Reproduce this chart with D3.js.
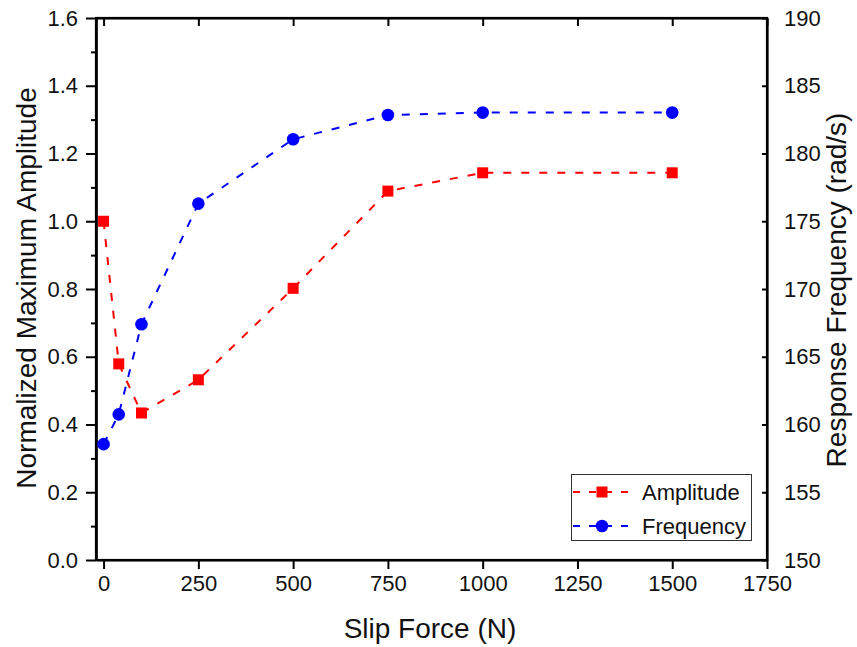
<!DOCTYPE html>
<html>
<head>
<meta charset="utf-8">
<script src="https://cdn.jsdelivr.net/npm/d3@7"></script>
<style>
  body { margin: 0; background: #fff; }
  svg { display: block; font-family: Arial, "Liberation Sans", sans-serif; }
</style>
</head>
<body>
<svg id="chart" width="857" height="647"></svg>
<script>
// Slip force (N) at each test point
const slipForce = [0, 40, 100, 250, 500, 750, 1000, 1500];
// Normalized maximum amplitude (left axis)
const amplitude = [1.0, 0.579, 0.434, 0.532, 0.802, 1.089, 1.143, 1.143];
// Response frequency in rad/s (right axis)
const frequency = [158.55, 160.75, 167.4, 176.3, 181.05, 182.84, 183.02, 183.02];

const xTicks = [0, 250, 500, 750, 1000, 1250, 1500, 1750];
const yLeftTicks = [0.0, 0.2, 0.4, 0.6, 0.8, 1.0, 1.2, 1.4, 1.6];
const yRightTicks = [150, 155, 160, 165, 170, 175, 180, 185, 190];

const svg = d3.select("#chart");
const plotLeft = 96, plotRight = 767, plotTop = 18, plotBottom = 560;

const x = d3.scaleLinear().domain([-20, 1750]).range([plotLeft, plotRight]);
const yL = d3.scaleLinear().domain([0, 1.6]).range([plotBottom, plotTop]);
const yR = d3.scaleLinear().domain([150, 190]).range([plotBottom, plotTop]);

const tickFont = 22;
const titleFont = 28;

// Bottom axis
const gx = svg.append("g").attr("transform", `translate(0,${plotBottom})`)
  .call(d3.axisBottom(x).tickValues(xTicks).tickFormat(d3.format("d")).tickSize(9).tickPadding(6).tickSizeOuter(0));
// Top axis (inward ticks, no labels)
const gt = svg.append("g").attr("transform", `translate(0,${plotTop})`)
  .call(d3.axisTop(x).tickValues(xTicks).tickFormat("").tickSize(-8).tickSizeOuter(0));
// Left axis with minor ticks
const gl = svg.append("g").attr("transform", `translate(${plotLeft},0)`)
  .call(d3.axisLeft(yL).tickValues(d3.range(0.1, 1.6, 0.2)).tickFormat("").tickSize(5).tickSizeOuter(0));
const gl2 = svg.append("g").attr("transform", `translate(${plotLeft},0)`)
  .call(d3.axisLeft(yL).tickValues(yLeftTicks).tickFormat(d3.format(".1f")).tickSize(10).tickPadding(8).tickSizeOuter(0));
// Right axis (inward ticks)
const gr = svg.append("g").attr("transform", `translate(${plotRight},0)`)
  .call(d3.axisRight(yR).tickValues(yRightTicks).tickFormat(d3.format("d")).tickSize(-5).tickPadding(17).tickSizeOuter(0));

[gx, gt, gl, gl2, gr].forEach(g => {
  g.selectAll(".domain").attr("stroke", "#000").attr("stroke-width", 2.2);
  g.selectAll(".tick line").attr("stroke", "#000").attr("stroke-width", 2);
  g.selectAll(".tick text").attr("fill", "#111").style("font-size", tickFont + "px")
    .style("font-family", "Arial, 'Liberation Sans', sans-serif");
});
// frame around the plot area
svg.append("rect").attr("x", plotLeft).attr("y", plotTop).attr("width", plotRight - plotLeft).attr("height", plotBottom - plotTop)
  .attr("fill", "none").attr("stroke", "#000").attr("stroke-width", 2.2);

// Axis titles
svg.append("text").attr("x", 430).attr("y", 638).attr("text-anchor", "middle")
  .style("font-size", titleFont + "px").attr("fill", "#111").text("Slip Force (N)");
svg.append("text").attr("transform", `translate(36,288) rotate(-90)`).attr("text-anchor", "middle")
  .style("font-size", titleFont + "px").attr("fill", "#111").text("Normalized Maximum Amplitude");
svg.append("text").attr("transform", `translate(846,290) rotate(-90)`).attr("text-anchor", "middle")
  .style("font-size", titleFont + "px").attr("fill", "#111").text("Response Frequency (rad/s)");

const dash = "8,10";
const ampPts = slipForce.map((f, i) => [x(f), yL(amplitude[i])]);
const freqPts = slipForce.map((f, i) => [x(f), yR(frequency[i])]);

svg.append("path").attr("d", d3.line()(ampPts)).attr("fill", "none")
  .attr("stroke", "#ff0000").attr("stroke-width", 2).attr("stroke-dasharray", dash);
svg.append("path").attr("d", d3.line()(freqPts)).attr("fill", "none")
  .attr("stroke", "#0000ff").attr("stroke-width", 2).attr("stroke-dasharray", dash);

svg.selectAll("rect.amp").data(ampPts).join("rect").attr("class", "amp")
  .attr("x", d => d[0] - 5.5).attr("y", d => d[1] - 5.5).attr("width", 11).attr("height", 11)
  .attr("fill", "#ff0000");
svg.selectAll("circle.freq").data(freqPts).join("circle").attr("class", "freq")
  .attr("cx", d => d[0]).attr("cy", d => d[1]).attr("r", 6.3).attr("fill", "#0000ff");

// Legend
const lg = svg.append("g");
lg.append("rect").attr("x", 571.5).attr("y", 474.5).attr("width", 180).attr("height", 66)
  .attr("fill", "#fff").attr("stroke", "#333").attr("stroke-width", 1);
const items = [
  { name: "Amplitude", color: "#ff0000", shape: "square", y: 492 },
  { name: "Frequency", color: "#0000ff", shape: "circle", y: 526 }
];
items.forEach(it => {
  lg.append("line").attr("x1", 572).attr("x2", 634).attr("y1", it.y).attr("y2", it.y)
    .attr("stroke", it.color).attr("stroke-width", 2).attr("stroke-dasharray", "7,9").attr("stroke-dashoffset", -1);
  if (it.shape === "square") {
    lg.append("rect").attr("x", 602 - 5.5).attr("y", it.y - 5.5).attr("width", 11).attr("height", 11).attr("fill", it.color);
  } else {
    lg.append("circle").attr("cx", 602).attr("cy", it.y).attr("r", 6.3).attr("fill", it.color);
  }
  lg.append("text").attr("x", 642).attr("y", it.y + 8).style("font-size", "22px").attr("fill", "#111").text(it.name);
});
</script>
</body>
</html>
